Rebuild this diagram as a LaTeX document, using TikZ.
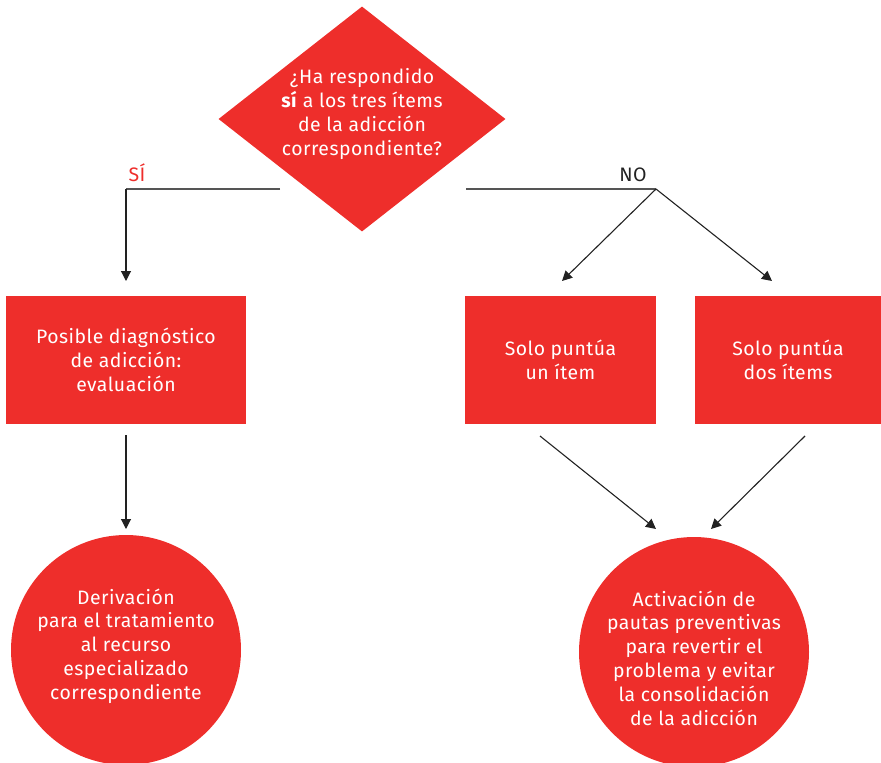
\documentclass[tikz,border=0pt]{standalone}
\usepackage{fontspec}
\setmainfont{Fira Sans}[LetterSpace=2.5]
\usetikzlibrary{shapes.geometric,arrows.meta}
\definecolor{flowred}{HTML}{EE2E2B}
\definecolor{linegray}{HTML}{555555}
\definecolor{arrowgray}{HTML}{222222}
\tikzset{
  redshape/.style={fill=flowred, draw=none, inner sep=0pt},
  boxtext/.style={text=white, align=center, font=\fontsize{19.4}{23.8}\selectfont},
  branch/.style={draw=linegray, line width=1.4pt},
  flowarrow/.style={draw=arrowgray, line width=1.1pt, -{Triangle[length=10pt,width=10pt]}},
}
\begin{document}
\begin{tikzpicture}[x=1pt,y=-1pt]
\useasboundingbox (0,0) rectangle (881,763);

% decision
\node[redshape, diamond, minimum width=287pt, minimum height=225pt] (q) at (362,119) {};
\node[boxtext] (qtext) at (362,114) {¿Ha respondido\\\textbf{sí} a los tres ítems\\de la adicción\\correspondiente?};

% branch lines
\coordinate (yesL) at (280,189);
\coordinate (yesC) at (126,189);
\coordinate (noL) at (466,189);
\coordinate (noC) at (656,189);
\node[text=flowred, font=\fontsize{19.5}{20}\selectfont, anchor=base] (yes) at (137,181) {SÍ};
\node[text=arrowgray, font=\fontsize{19.5}{20}\selectfont, anchor=base] (no) at (633,181) {NO};

% boxes
\node[redshape, rectangle, minimum width=240pt, minimum height=128pt] (diag) at (126,360) {};
\node[boxtext] (diagtext) at (diag.center) {Posible diagnóstico\\de adicción:\\evaluación};
\node[redshape, rectangle, minimum width=191pt, minimum height=128pt] (one) at (560.5,360) {};
\node[boxtext] (onetext) at (one.center) {Solo puntúa\\un ítem};
\node[redshape, rectangle, minimum width=186pt, minimum height=128pt] (two) at (788,360) {};
\node[boxtext] (twotext) at (two.center) {Solo puntúa\\dos ítems};

% outcomes
\node[redshape, circle, minimum size=230pt] (deriv) at (126,650) {};
\node[boxtext] (derivtext) at (126,646) {Derivación\\para el tratamiento\\al recurso\\especializado\\correspondiente};
\node[redshape, circle, minimum size=230pt] (prev) at (694,652) {};
\node[boxtext] (prevtext) at (694,658) {Activación de\\pautas preventivas\\para revertir el\\problema y evitar\\la consolidación\\de la adicción};

% connectors
\draw[branch] (yesL) -- (yesC);
\draw[branch] (noL) -- (noC);
\coordinate (diagIn) at (126,281);
\coordinate (oneIn) at (562,281);
\coordinate (twoIn) at (772,281);
\draw[flowarrow] (yesC) -- (diagIn);
\draw[flowarrow] (noC) -- (oneIn);
\draw[flowarrow] (noC) -- (twoIn);

\coordinate (diagOut) at (126,435);
\coordinate (derivIn) at (126,529);
\coordinate (oneOut) at (540,436);
\coordinate (twoOut) at (805,436);
\coordinate (prevInL) at (656,529);
\coordinate (prevInR) at (711,529);
\draw[flowarrow] (diagOut) -- (derivIn);
\draw[flowarrow] (oneOut) -- (prevInL);
\draw[flowarrow] (twoOut) -- (prevInR);
\end{tikzpicture}
\end{document}
